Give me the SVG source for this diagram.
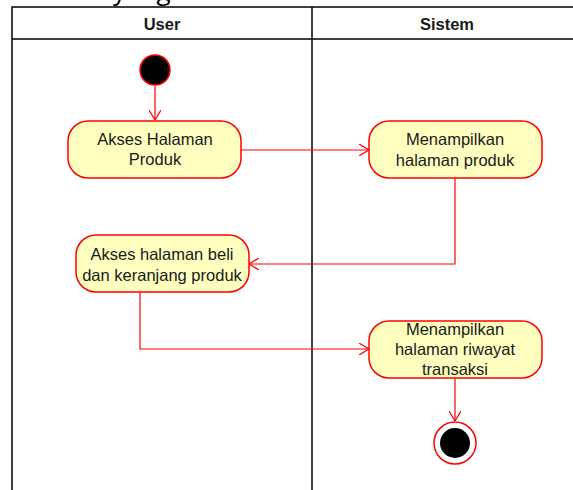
<svg xmlns="http://www.w3.org/2000/svg" width="573" height="490" viewBox="0 0 573 490">
<style>
.lane{fill:none;stroke:#000;stroke-width:1.5}
.node{fill:#ffffc0;stroke:#ff0000;stroke-width:1.5}
.lbl{font-family:"Liberation Sans",Arial,sans-serif;font-size:16.5px;fill:#1a1a1a;text-anchor:middle}
.hdr{font-family:"Liberation Sans",Arial,sans-serif;font-size:16.5px;font-weight:bold;fill:#1a1a1a;text-anchor:middle}
.edge{fill:none;stroke:#ff0000;stroke-width:1.2}
</style>
<defs>
<marker id="arr" viewBox="0 0 10 12" refX="10" refY="6" markerWidth="10" markerHeight="12" markerUnits="userSpaceOnUse" orient="auto">
<path d="M0,0 L10,6 L0,12" fill="none" stroke="#ff0000" stroke-width="1.2"/>
</marker>
</defs>
<rect width="573" height="490" fill="#fff"/>
<text x="113" y="0" font-family="'Open Sans',sans-serif" font-size="26" fill="#000">yang</text>
<g id="swimlane">
<path class="lane" d="M12,490 V7 H573 M12,39 H573 M312,7 V490"/>
<text class="hdr" x="162" y="30">User</text>
<text class="hdr" x="447" y="30">Sistem</text>
</g>
<g id="connectors">
<path class="edge" d="M155,86 V120" marker-end="url(#arr)"/>
<path class="edge" d="M241,150 H369" marker-end="url(#arr)"/>
<path class="edge" d="M455,178 V264 H249" marker-end="url(#arr)"/>
<path class="edge" d="M140,292 V349 H369" marker-end="url(#arr)"/>
<path class="edge" d="M455,378 V421" marker-end="url(#arr)"/>
</g>
<g id="start">
<circle cx="155" cy="70" r="15" fill="#000" stroke="#ff0000" stroke-width="1.5"/>
</g>
<g id="n1">
<rect class="node" x="68" y="121" width="173" height="57" rx="20"/>
<text class="lbl" x="155" y="145">Akses Halaman</text>
<text class="lbl" x="155" y="165">Produk</text>
</g>
<g id="n2">
<rect class="node" x="369" y="121" width="173" height="57" rx="20"/>
<text class="lbl" x="455" y="145">Menampilkan</text>
<text class="lbl" x="455" y="166">halaman produk</text>
</g>
<g id="n3">
<rect class="node" x="76" y="235" width="173" height="57" rx="20"/>
<text class="lbl" x="162" y="260">Akses halaman beli</text>
<text class="lbl" x="162" y="281">dan keranjang produk</text>
</g>
<g id="n4">
<rect class="node" x="369" y="321" width="173" height="57" rx="20"/>
<text class="lbl" x="455" y="335">Menampilkan</text>
<text class="lbl" x="455" y="355">halaman riwayat</text>
<text class="lbl" x="455" y="375">transaksi</text>
</g>
<g id="end">
<circle cx="455" cy="443" r="21" fill="#fff" stroke="#ff0000" stroke-width="1.5"/>
<circle cx="455" cy="443" r="15" fill="#000"/>
</g>
</svg>
